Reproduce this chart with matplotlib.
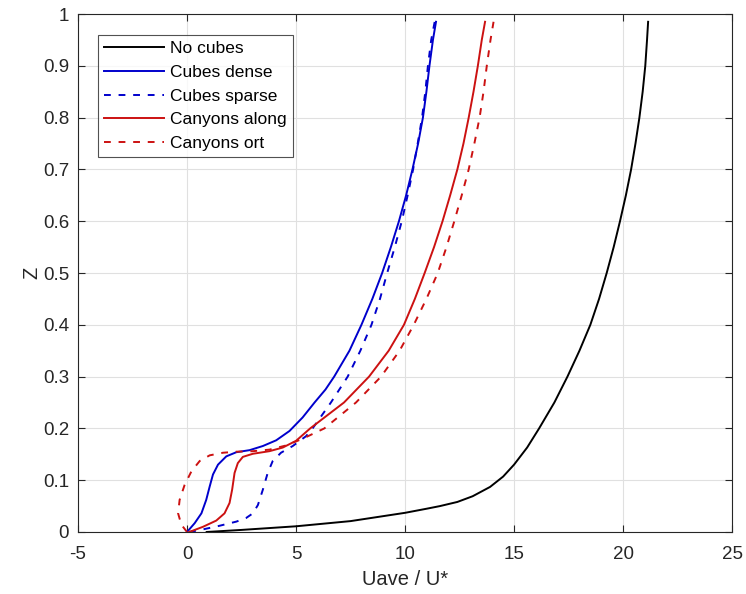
import numpy as np
import matplotlib
matplotlib.use("Agg")
import matplotlib.pyplot as plt

plt.rcParams['font.family'] = ['Liberation Sans', 'DejaVu Sans']
plt.rcParams['axes.unicode_minus'] = False

# velocity profiles (x = Uave/U*, z = height)
x_none = [0.9, 2.5, 5, 7.5, 10, 11, 11.6, 12.4, 13.1, 13.9, 14.5, 15.0, 15.6, 16.15, 16.85,
          17.45, 18.0, 18.5, 18.9, 19.25, 19.57, 19.86, 20.13, 20.37, 20.57, 20.75, 20.9,
          21.02, 21.1, 21.15]
z_none = [0, 0.004, 0.011, 0.021, 0.037, 0.045, 0.050, 0.058, 0.069, 0.087, 0.107, 0.130,
          0.163, 0.2, 0.25, 0.3, 0.35, 0.4, 0.45, 0.5, 0.55, 0.6, 0.65, 0.7, 0.75, 0.8, 0.85,
          0.9, 0.95, 0.985]

x_dense = [0, 0.35, 0.66, 0.88, 1.04, 1.19, 1.42, 1.8, 2.26, 2.87, 3.48, 4.09, 4.7, 5.3,
           5.85, 6.35, 6.75, 7.45, 8.0, 8.5, 8.95, 9.35, 9.72, 10.05, 10.34, 10.6, 10.82,
           10.98, 11.12, 11.28, 11.42]
z_dense = [0, 0.017, 0.036, 0.062, 0.088, 0.111, 0.130, 0.146, 0.154, 0.158, 0.166, 0.177,
           0.195, 0.221, 0.25, 0.275, 0.3, 0.35, 0.4, 0.45, 0.5, 0.55, 0.6, 0.65, 0.7, 0.75,
           0.8, 0.85, 0.9, 0.95, 0.985]

x_sparse = [0.1, 0.73, 1.49, 2.26, 2.71, 3.02, 3.25, 3.48, 3.7, 3.93, 4.31, 4.85, 5.46,
            5.76, 6.6, 7.37, 7.95, 8.46, 8.85, 9.18, 9.53, 9.85, 10.12, 10.37, 10.58, 10.78,
            10.93, 11.05, 11.2, 11.36]
z_sparse = [0, 0.005, 0.012, 0.020, 0.027, 0.036, 0.052, 0.082, 0.114, 0.137, 0.153, 0.166,
            0.185, 0.2, 0.25, 0.3, 0.35, 0.4, 0.45, 0.5, 0.55, 0.6, 0.65, 0.7, 0.75, 0.8,
            0.85, 0.9, 0.95, 0.985]

x_along = [0.1, 0.73, 1.34, 1.72, 1.95, 2.07, 2.18, 2.33, 2.56, 3.02, 3.78, 4.39, 5.0,
           5.65, 7.2, 8.35, 9.25, 9.95, 10.45, 10.9, 11.33, 11.72, 12.07, 12.4, 12.68, 12.92,
           13.14, 13.34, 13.52, 13.67]
z_along = [0, 0.010, 0.022, 0.036, 0.056, 0.082, 0.114, 0.133, 0.145, 0.151, 0.156, 0.163,
           0.176, 0.2, 0.25, 0.3, 0.35, 0.4, 0.45, 0.5, 0.55, 0.6, 0.65, 0.7, 0.75, 0.8,
           0.85, 0.9, 0.95, 0.985]

x_ort = [0, -0.26, -0.41, -0.34, -0.11, 0.2, 0.58, 1.04, 1.65, 2.26, 3.02, 3.78, 4.54,
         5.3, 6.3, 7.75, 8.9, 9.75, 10.4, 10.98, 11.5, 11.9, 12.26, 12.6, 12.92, 13.18,
         13.42, 13.6, 13.75, 13.92, 14.06]
z_ort = [0, 0.014, 0.036, 0.062, 0.091, 0.117, 0.137, 0.148, 0.153, 0.155, 0.156, 0.159,
         0.167, 0.180, 0.2, 0.25, 0.3, 0.35, 0.4, 0.45, 0.5, 0.55, 0.6, 0.65, 0.7, 0.75,
         0.8, 0.85, 0.9, 0.95, 0.985]

xticks = [-5, 0, 5, 10, 15, 20, 25]
yticks = [0, 0.1, 0.2, 0.3, 0.4, 0.5, 0.6, 0.7, 0.8, 0.9, 1]
ytick_labels = ["0", "0.1", "0.2", "0.3", "0.4", "0.5", "0.6", "0.7", "0.8", "0.9", "1"]

fig = plt.figure(figsize=(7.46, 5.94), dpi=100)
ax = fig.add_axes([0.1046, 0.1044, 0.8767, 0.872])

blue = "#0000cc"
red = "#cc1111"
lw = 1.4
dash = (0, (3.5, 4))
ax.plot(x_none, z_none, color="black", lw=lw, label="No cubes")
ax.plot(x_dense, z_dense, color=blue, lw=lw, label="Cubes dense")
ax.plot(x_sparse, z_sparse, color=blue, lw=lw, ls=dash, label="Cubes sparse")
ax.plot(x_along, z_along, color=red, lw=lw, label="Canyons along")
ax.plot(x_ort, z_ort, color=red, lw=lw, ls=dash, label="Canyons ort")

ax.set_xlim(-5, 25)
ax.set_ylim(0, 1)
ax.set_xticks(xticks)
ax.set_yticks(yticks)
ax.set_yticklabels(ytick_labels)
ax.tick_params(direction="in", top=True, right=True, length=5, width=0.8,
               colors="#262626", labelsize=13.5)
ax.tick_params(axis="y", pad=6.5)
ax.tick_params(axis="x", pad=10)
for s in ax.spines.values():
    s.set_color("#262626")
    s.set_linewidth(0.8)
ax.grid(True, color="#e0e0e0", lw=0.8)
ax.set_axisbelow(True)
ax.set_xlabel("Uave / U*", fontsize=14.5, color="#262626", labelpad=5)
ax.set_ylabel("Z", fontsize=14.5, color="#262626", labelpad=1)

leg = ax.legend(loc="upper left", bbox_to_anchor=(0.031, 0.96), fontsize=12.5,
                handlelength=3.45, frameon=True, fancybox=False, borderpad=0.35,
                labelspacing=0.5, handletextpad=0.35, borderaxespad=0)
leg.get_frame().set_edgecolor("#262626")
leg.get_frame().set_linewidth(0.8)

fig.savefig("out.png", dpi=100)
